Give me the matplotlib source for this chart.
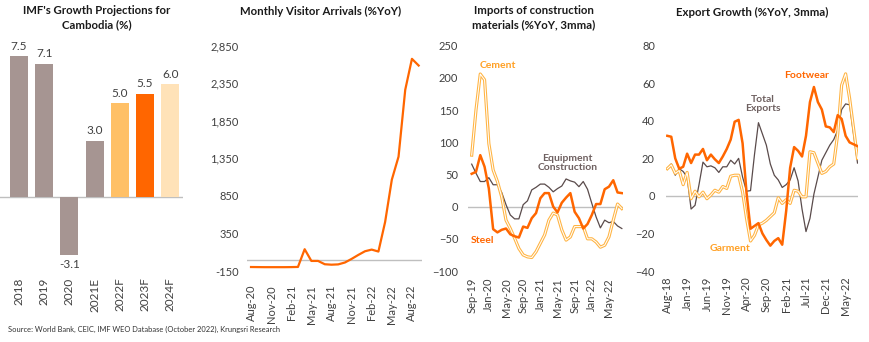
import numpy as np
import matplotlib.pyplot as plt

plt.rcParams['font.family'] = ['Lato', 'DejaVu Sans']

# ---- data ----
gdp_years = ['2018', '2019', '2020', '2021E', '2022F', '2023F', '2024F']
gdp_growth = [7.5, 7.1, -3.1, 3.0, 5.0, 5.5, 6.0]

visitor_months = ['Aug-20', 'Sep-20', 'Oct-20', 'Nov-20', 'Dec-20', 'Jan-21', 'Feb-21',
                  'Mar-21', 'Apr-21', 'May-21', 'Jun-21', 'Jul-21', 'Aug-21', 'Sep-21',
                  'Oct-21', 'Nov-21', 'Dec-21', 'Jan-22', 'Feb-22', 'Mar-22', 'Apr-22',
                  'May-22', 'Jun-22', 'Jul-22', 'Aug-22', 'Sep-22']
visitor_yoy = [-97, -98, -99, -99, -99, -99, -98, -96, 140, -16, -16, -60, -66, -62,
               -37, 11, 64, 113, 135, 109, 503, 1066, 1372, 2263, 2675, 2586]

import_months = ['Sep-19', 'Oct-19', 'Nov-19', 'Dec-19', 'Jan-20', 'Feb-20', 'Mar-20',
                 'Apr-20', 'May-20', 'Jun-20', 'Jul-20', 'Aug-20', 'Sep-20', 'Oct-20',
                 'Nov-20', 'Dec-20', 'Jan-21', 'Feb-21', 'Mar-21', 'Apr-21', 'May-21',
                 'Jun-21', 'Jul-21', 'Aug-21', 'Sep-21', 'Oct-21', 'Nov-21', 'Dec-21',
                 'Jan-22', 'Feb-22', 'Mar-22', 'Apr-22', 'May-22', 'Jun-22', 'Jul-22',
                 'Aug-22']
cement = [80, 150, 206, 197, 98, 57, 39, 15, -21, -34, -49, -65, -75, -78, -79, -70,
          -57, -44, -21, -10, -13, -36, -52, -47, -31, -31, -31, -50, -50, -55, -63,
          -60, -47, -21, 4, -3]
steel = [51, 54, 80, 62, 28, -35, -40, -36, -34, -43, -46, -48, -31, -33, -18, -10,
         13, 21, 21, 0, -9, 6, 14, 21, -8, -18, -34, -27, -13, 4, 4, 27, 31, 41, 22, 21]
equipment = [66, 52, 39, 39, 45, 34, 34, 22, 3, -13, -19, -19, 3, 9, 26, 30, 35, 35,
             30, 23, 28, 32, 43, 40, 38, 31, 39, 27, 5, -16, -33, -21, -25, -23, -30, -34]

export_months = ['Aug-18', 'Sep-18', 'Oct-18', 'Nov-18', 'Dec-18', 'Jan-19', 'Feb-19',
                 'Mar-19', 'Apr-19', 'May-19', 'Jun-19', 'Jul-19', 'Aug-19', 'Sep-19',
                 'Oct-19', 'Nov-19', 'Dec-19', 'Jan-20', 'Feb-20', 'Mar-20', 'Apr-20',
                 'May-20', 'Jun-20', 'Jul-20', 'Aug-20', 'Sep-20', 'Oct-20', 'Nov-20',
                 'Dec-20', 'Jan-21', 'Feb-21', 'Mar-21', 'Apr-21', 'May-21', 'Jun-21',
                 'Jul-21', 'Aug-21', 'Sep-21', 'Oct-21', 'Nov-21', 'Dec-21', 'Jan-22',
                 'Feb-22', 'Mar-22', 'Apr-22', 'May-22', 'Jun-22', 'Jul-22', 'Aug-22']
footwear = [32, 31.5, 20, 14.5, 15.5, 22.5, 17.5, 22, 22, 25, 19, 22, 19.5, 17.5, 21,
            25, 30, 39.5, 40.5, 28, 1.5, -17.5, -16, -14.5, -20, -23.5, -26.5, -24,
            -22.5, -26, -8, 15, 26, 24, 21, 32, 50, 58, 50, 46, 37, 36.5, 34, 43, 41,
            32, 28.5, 27.5, 26.5]
total_exports = [14.5, 17, 11, 14.5, 13, 10, -7, -5, 6, 18, 15.5, 16, 15, 12.5, 15.5,
                 15.5, 19, 17, 20, 10, 2.5, 2.8, 22, 39, 33, 27, 17, 11, 8.5, 4.5, 6,
                 8.5, 15, 8, -7, -19, -12, 1, 10, 19, 23, 27, 30, 35, 46, 49, 48.5, 33,
                 17.5]
garment = [14.5, 16.5, 12, 13.5, 6, 12.5, -1.5, 2.5, -0.5, 2, -1.5, 0.5, 3, 2, 5, 4,
           10.5, 11, 11, 2, -12, -24, -21, -15.5, -14.5, -13, -11, -9, -1, -4, -2, -4,
           3, 2.5, -0.5, -0.5, 23.5, 23, 17.5, 12, 13, 15.5, 17, 33, 59, 65, 52, 36, 20]

# ---- colours ----
brown = '#A69592'
dark = '#5A4B4B'
orange = '#FF6600'
light = '#FFB443'
zero_col = '#BFBFBF'
txt = '#404040'
bar_colors = [brown, brown, brown, brown, '#FFC066', orange, '#FFE2B8']

W, H = 870, 342
fig = plt.figure(figsize=(W / 100, H / 100), dpi=100)


def box(x0, y0, x1, y1):
    return [x0 / W, 1 - y1 / H, (x1 - x0) / W, (y1 - y0) / H]


def clean(ax):
    for s in ax.spines.values():
        s.set_visible(False)
    ax.tick_params(length=0, labelsize=8, colors=txt)
    ax.axhline(0, color=zero_col, lw=1.0, zorder=1)


def double_line(ax, x, y):
    # outlined light-orange line with a white core
    ax.plot(x, y, color=light, lw=2.3, solid_joinstyle='round', zorder=2)
    ax.plot(x, y, color='white', lw=0.75, solid_joinstyle='round', zorder=2)


# ---- panel 1: IMF projections ----
ax1 = fig.add_axes(box(0, 40, 183, 272))
clean(ax1)
xb = np.arange(len(gdp_years))
ax1.bar(xb, gdp_growth, width=0.71, color=bar_colors, zorder=2)
for xi, v in zip(xb, gdp_growth):
    if v >= 0:
        ax1.annotate(f'{v:.1f}', (xi, v), xytext=(0, 3), textcoords='offset points',
                     ha='center', va='bottom', fontsize=8.5, color=txt)
    else:
        ax1.annotate(f'{v:.1f}', (xi, v), xytext=(0, -3), textcoords='offset points',
                     ha='center', va='top', fontsize=8.5, color=txt)
ax1.set_xlim(-0.754, 6.508)
ax1.set_ylim(-3.99, 8.35)
ax1.set_yticks([])
ax1.set_xticks(xb)
ax1.set_xticklabels(gdp_years, rotation=90, fontsize=8.5)
ax1.tick_params(axis='x', pad=4)

# ---- panel 2: visitor arrivals ----
ax2 = fig.add_axes(box(247, 45.7, 422, 271))
clean(ax2)
xv = np.arange(len(visitor_months))
ax2.plot(xv, visitor_yoy, color=orange, lw=1.6, zorder=3)
ax2.set_xlim(-0.6, 25.5)
ax2.set_ylim(-150, 2850)
yt = [-150, 350, 850, 1350, 1850, 2350, 2850]
ax2.set_yticks(yt)
ax2.set_yticklabels([f'{v:,}' for v in yt])
ax2.set_xticks(xv[::3])
ax2.set_xticklabels(visitor_months[::3], rotation=90)
ax2.tick_params(axis='x', pad=10)
ax2.tick_params(axis='y', pad=6)

# ---- panel 3: imports of construction materials ----
ax3 = fig.add_axes(box(468, 45.7, 623, 271))
clean(ax3)
xi3 = np.arange(len(import_months))
ax3.plot(xi3, equipment, color=dark, lw=0.9, zorder=2)
double_line(ax3, xi3, cement)
ax3.plot(xi3, steel, color=orange, lw=1.8, zorder=3)
ax3.set_xlim(-0.86, 35.27)
ax3.set_ylim(-100, 250)
ax3.set_yticks(range(-100, 251, 50))
ax3.set_xticks(xi3[::4])
ax3.set_xticklabels(import_months[::4], rotation=90)
ax3.tick_params(axis='x', pad=5)
ax3.tick_params(axis='y', pad=7)
ax3.text(6, 219, 'Cement', color='#FFA024', fontsize=7.5, fontweight='bold',
         ha='center', va='center')
ax3.text(2.6, -53, 'Steel', color=orange, fontsize=7.5, fontweight='bold',
         ha='center', va='center')
ax3.text(22.4, 68, 'Equipment\nConstruction', color='#6E6060', fontsize=7.5,
         fontweight='bold', ha='center', va='center', linespacing=1.1)

# ---- panel 4: export growth ----
ax4 = fig.add_axes(box(666, 45.7, 858.3, 271))
clean(ax4)
xe = np.arange(len(export_months))
ax4.plot(xe, total_exports, color=dark, lw=0.9, zorder=2)
double_line(ax4, xe, garment)
ax4.plot(xe, footwear, color=orange, lw=1.8, zorder=3)
ax4.set_xlim(-0.33, 48.2)
ax4.set_ylim(-40, 80)
ax4.set_yticks(range(-40, 81, 20))
ax4.set_xticks(xe[::5])
ax4.set_xticklabels(export_months[::5], rotation=90)
ax4.tick_params(axis='x', pad=4)
ax4.tick_params(axis='y', pad=8)
ax4.text(35.2, 64, 'Footwear', color=orange, fontsize=7.5, fontweight='bold',
         ha='center', va='center')
ax4.text(24, 49, 'Total\nExports', color='#6E6060', fontsize=7.5, fontweight='bold',
         ha='center', va='center', linespacing=1.1)
ax4.text(15.7, -28, 'Garment', color='#FFA024', fontsize=7.5, fontweight='bold',
         ha='center', va='center')

# ---- titles and source ----
tkw = dict(ha='center', va='center', fontsize=8.2, fontweight='bold', color='#1a1a1a')
fig.text(97 / W, 1 - 11 / H, "IMF's Growth Projections for", **tkw)
fig.text(97 / W, 1 - 25 / H, 'Cambodia (%)', **tkw)
fig.text(321 / W, 1 - 11 / H, 'Monthly Visitor Arrivals (%YoY)', **tkw)
fig.text(534 / W, 1 - 11 / H, 'Imports of construction', **tkw)
fig.text(534 / W, 1 - 25 / H, 'materials (%YoY, 3mma)', **tkw)
fig.text(752 / W, 1 - 12 / H, 'Export Growth (%YoY, 3mma)', **tkw)
fig.text(8 / W, 1 - 329 / H, 'Source: World Bank, CEIC, IMF WEO Database (October 2022), Krungsri Research',
         ha='left', va='center', fontsize=5.4, color='#333333')

fig.savefig('out.png', dpi=100)
